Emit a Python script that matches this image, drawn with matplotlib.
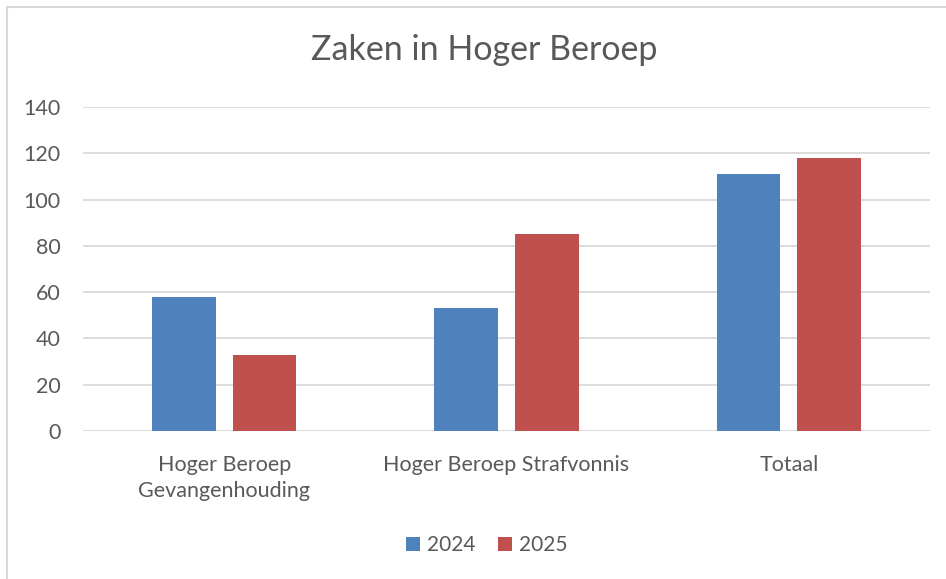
import matplotlib.pyplot as plt
import matplotlib.lines as mlines
import numpy as np

categories = ["Hoger Beroep\nGevangenhouding", "Hoger Beroep Strafvonnis", "Totaal"]
series_names = ["2024", "2025"]
vals_2024 = [58, 53, 111]
vals_2025 = [33, 85, 118]
yticks = [0, 20, 40, 60, 80, 100, 120, 140]

blue = '#4F81BD'
red = '#C0504D'
txt = '#595959'
grid = '#D9D9D9'

plt.rcParams['font.family'] = ['Lato', 'DejaVu Sans']

fig = plt.figure(figsize=(9.46, 5.79), dpi=100)
ax = fig.add_axes([83/946, 1-431/579, 847/946, 324/579])

x = np.arange(len(categories))
w = 0.226
gap = 0.06
ax.bar(x - (w + gap)/2, vals_2024, w, color=blue, label=series_names[0], zorder=3)
ax.bar(x + (w + gap)/2, vals_2025, w, color=red, label=series_names[1], zorder=3)

ax.set_xlim(-0.5, 2.5)
ax.set_ylim(0, 140)
ax.set_yticks(yticks)
ax.yaxis.grid(True, color=grid, linewidth=1.3, zorder=0)
for s in ax.spines.values():
    s.set_visible(False)
ax.tick_params(axis='both', length=0, colors=txt, labelsize=15.5)
ax.tick_params(axis='y', pad=16)
ax.tick_params(axis='x', pad=17)
ax.set_xticks(x)
ax.set_xticklabels(categories, linespacing=1.4)

fig.text(484/946, 1-50/579, "Zaken in Hoger Beroep", fontsize=24.5, color=txt,
         ha='center', va='center')

leg = fig.legend(loc='center', bbox_to_anchor=(487/946, 1-545/579), ncol=2,
                 frameon=False, fontsize=15, labelcolor=txt,
                 handlelength=0.65, handleheight=0.65, handletextpad=0.35, columnspacing=1.1)

# chart border: only top and left edges fall inside the picture
fig.lines.append(mlines.Line2D([7/946, 7/946], [0, 1-7/579], transform=fig.transFigure,
                               color=grid, linewidth=1.5))
fig.lines.append(mlines.Line2D([7/946, 1], [1-7/579, 1-7/579], transform=fig.transFigure,
                               color=grid, linewidth=1.5))

plt.savefig("out.png", dpi=100)
